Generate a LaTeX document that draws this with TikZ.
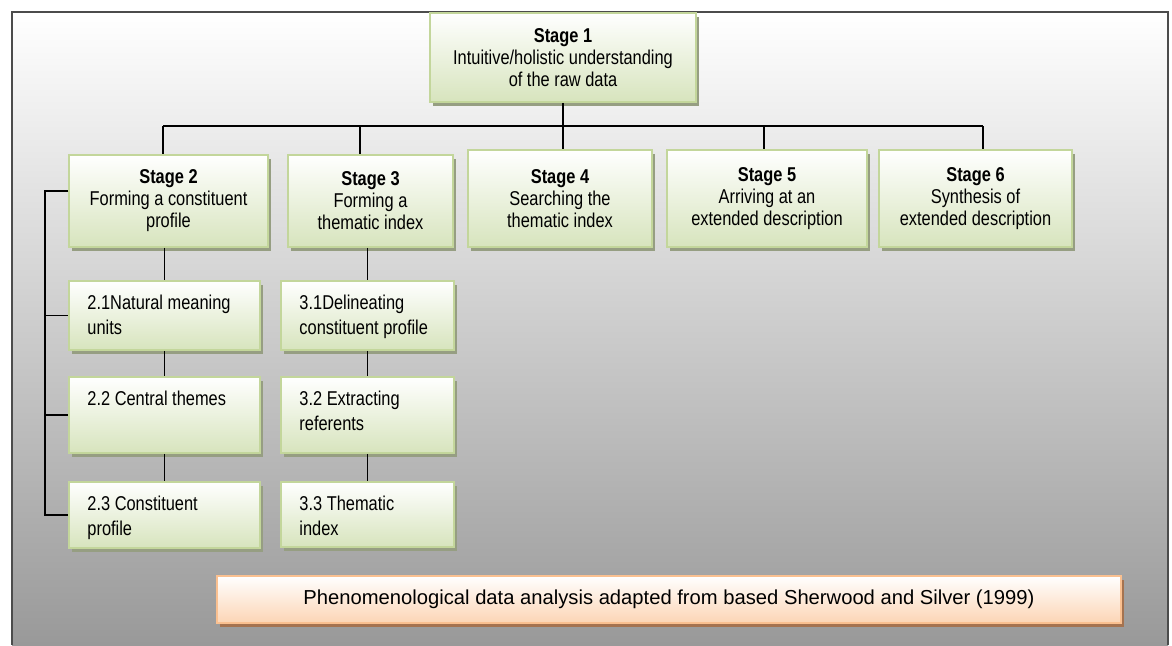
\documentclass[tikz,border=0pt]{standalone}
\usepackage{fontspec}
\setmainfont{Liberation Sans}
\newfontfamily\narrowsf[FakeStretch=0.82]{Liberation Sans}
\usetikzlibrary{shadows}
\definecolor{boxgreen}{RGB}{215,228,189}
\definecolor{greenedge}{RGB}{195,214,155}
\definecolor{greenshadow}{RGB}{150,158,130}
\definecolor{boxorange}{RGB}{252,213,181}
\definecolor{orangeedge}{RGB}{250,192,144}
\definecolor{orangeshadow}{RGB}{165,115,80}

\begin{document}
\begin{tikzpicture}[
    x=1pt, y=-1pt,
    stage/.style={draw=greenedge, line width=1.5pt, top color=white,
                  bottom color=boxgreen, align=center, inner sep=0pt,
                  font=\narrowsf\fontsize{20}{22}\selectfont,
                  drop shadow={shadow xshift=3pt, shadow yshift=-4pt,
                               fill=greenshadow, opacity=1}},
    sub/.style={stage},
    subtext/.style={anchor=north west, align=left, inner sep=0pt,
                    xshift=19pt, yshift=-15pt,
                    font=\narrowsf\fontsize{20}{24.5}\selectfont},
    note/.style={draw=orangeedge, line width=2pt, top color=white,
                 bottom color=boxorange, inner sep=0pt,
                 font=\fontsize{20.2}{22}\selectfont,
                 drop shadow={shadow xshift=3pt, shadow yshift=-4pt,
                              fill=orangeshadow, opacity=1}},
    link/.style={draw=black, line width=1.6pt},
    frame/.style={draw=black!70, line width=2.5pt}
  ]
  \useasboundingbox (0,0) rectangle (1172,645);

  % Background
  \shade[top color=white, middle color=black!15, bottom color=black!40]
    (12,12) rectangle (1168,645);
  \draw[frame] (12,645) -- (12,12) -- (1168,12) -- (1168,645);

  % Stage 1
  \node[stage, minimum width=266, minimum height=89] (s1) at (563,57.5)
    {\textbf{Stage 1}\\Intuitive/holistic understanding\\of the raw data};

  % Stages 2 to 6
  \foreach \n/\cx/\cy/\w/\h/\txt [count=\i from 2] in {
      s2/168.5/201/199/92/{Forming a constituent\\profile},
      s3/370.5/201/165/92/{Forming a\\thematic index},
      s4/560/198.5/184/97/{Searching the\\thematic index},
      s5/767/198.5/200/97/{Arriving at an\\extended description},
      s6/975.5/198.5/193/97/{Synthesis of\\extended description}} {
    \node[stage, minimum width=\w, minimum height=\h] (\n) at (\cx,\cy)
      {\textbf{Stage \i}\\\txt};
  }

  % Sub steps
  \foreach \n/\cx/\cy/\w/\h/\txt in {
      a1/164.5/315.5/191/69/{2.1Natural meaning\\units},
      a2/164.5/415/191/76/{2.2 Central themes},
      a3/164.5/515/191/66/{2.3 Constituent\\profile},
      b1/367.5/315.5/173/69/{3.1Delineating\\constituent profile},
      b2/367.5/415/173/76/{3.2 Extracting\\referents},
      b3/367.5/514.5/173/65/{3.3 Thematic\\index}} {
    \node[sub, minimum width=\w, minimum height=\h,
          label={[subtext]north west:{\txt}}] (\n) at (\cx,\cy) {};
  }

  % Caption
  \node[note, minimum width=904, minimum height=47] (cap) at (669,599.5)
    {Phenomenological data analysis adapted from based Sherwood and Silver (1999)};

  % Connectors
  \coordinate (bus) at (563,126);
  \coordinate (lbus) at (45,0);
  \draw[link] (s1.south) -- (bus);
  \draw[link] ([xshift=-5.5pt]bus -| s2.north) -- ([xshift=7.5pt]bus -| s6.north);
  \foreach \n/\dx in {s2/-5.5,s3/-10.5,s4/3,s5/-3,s6/7.5}
    \draw[link] ([xshift=\dx pt]bus -| \n.north) -- ([xshift=\dx pt]\n.north);
  \draw[link] (s2.south -| a1.north) -- (a1.north)
              (a1.south) -- (a2.north) (a2.south) -- (a3.north);
  \draw[link] (s3.south -| b1.north) -- (b1.north)
              (b1.south) -- (b2.north) (b2.south) -- (b3.north);
  \draw[link] ([yshift=10pt]s2.west) -| (lbus |- a3.west) -- (a3.west);
  \draw[link] (lbus |- a1.west) -- (a1.west) (lbus |- a2.west) -- (a2.west);
\end{tikzpicture}
\end{document}
